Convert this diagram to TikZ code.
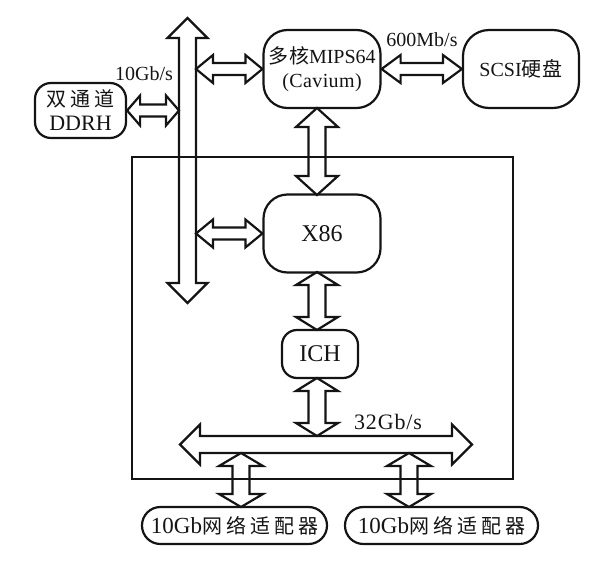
\documentclass[tikz,border=0pt]{standalone}
\usepackage{fontspec}
\usetikzlibrary{calc}
\setmainfont{Liberation Serif}
\newfontfamily\cjk[LetterSpace=20]{Noto Sans CJK SC}
\newfontfamily\cjkb[LetterSpace=4]{Noto Sans CJK SC}
\newcommand{\largetxt}{\fontsize{24}{28}\selectfont}
\definecolor{ink}{HTML}{141414}
\tikzset{
  box/.style={draw=ink,line width=2.2pt,rounded corners=#1,inner sep=0pt,align=center,text=ink,font=\fontsize{20}{24}\selectfont},
  box/.default=22pt,
  arr/.style={draw=ink,line width=2.2pt,line join=miter},
  lab/.style={text=ink,inner sep=0pt,font=\fontsize{20}{24}\selectfont}
}
% from, to, half shaft, half head, head length
\newcommand{\dblarr}[5]{%
  \draw[arr] (#1)
  -- ($(#1)!#5pt!(#2)!#4pt!90:(#2)$)
  -- ($(#1)!#5pt!(#2)!#3pt!90:(#2)$)
  -- ($(#2)!#5pt!(#1)!#3pt!-90:(#1)$)
  -- ($(#2)!#5pt!(#1)!#4pt!-90:(#1)$)
  -- (#2)
  -- ($(#2)!#5pt!(#1)!#4pt!90:(#1)$)
  -- ($(#2)!#5pt!(#1)!#3pt!90:(#1)$)
  -- ($(#1)!#5pt!(#2)!#3pt!-90:(#2)$)
  -- ($(#1)!#5pt!(#2)!#4pt!-90:(#2)$)
  -- cycle;}
\begin{document}
\begin{tikzpicture}[x=1pt,y=-1pt]
\useasboundingbox (0,0) rectangle (600,568);
\node[draw=ink,line width=2.2pt,minimum width=381pt,minimum height=322pt,inner sep=0pt] (frame) at (322.5,318) {};
\node[box=16pt,minimum width=91pt,minimum height=55pt] (ddr) at (80.5,110.5) {{\cjk 双通道}\\{\fontsize{22}{24}\selectfont DDRH}};
\node[box=24pt,minimum width=117pt,minimum height=78pt] (mips) at (322,69) {{\cjkb 多核}MIPS64\\{\addfontfeature{LetterSpace=2}(Cavium)}};
\node[box=26pt,minimum width=116pt,minimum height=78pt] (scsi) at (521,69) {SCSI{\cjkb 硬盘}};
\node[box=24pt,minimum width=117pt,minimum height=78pt] (x86) at (322,233.5) {\largetxt X86};
\node[box=15pt,minimum width=76pt,minimum height=48pt] (ich) at (320,354) {\largetxt ICH};
\node[box=18.4pt,minimum width=185pt,minimum height=37pt] (a1) at (234.5,525.5) {{\fontsize{23}{24}\selectfont 10Gb}{\cjk 网络适配器}};
\node[box=18.4pt,minimum width=193pt,minimum height=37pt] (a2) at (441.5,525.5) {{\fontsize{23}{24}\selectfont 10Gb}{\cjk 网络适配器}};
\node[lab] (l1) at (144,74) {10Gb/s};
\node[lab] (l2) at (422,40) {600Mb/s};
\node[lab] (l3) at (388,422) {\fontsize{22}{24}\selectfont\addfontfeature{LetterSpace=4}32Gb/s};
% named ends
\coordinate (vt) at (187.5,18);
\coordinate (vb) at (187.5,303);
\coordinate (hl) at (180,444.5);
\coordinate (hr) at (472,444.5);
\coordinate (vm) at (196,69);
\coordinate (vx) at (196,233.5);
\coordinate (vd) at (179,110.5);
\coordinate (mipsS) at (317,108);
\coordinate (x86N) at (317,195);
\coordinate (x86S) at (317,272);
\coordinate (ichN) at (317,330);
\coordinate (ichS) at (317,378);
\coordinate (hT) at (317,436);
\coordinate (h1) at (241,453);
\coordinate (h2) at (409,453);
\coordinate (a1N) at (241,507);
\coordinate (a2N) at (409,507);
\dblarr{vt}{vb}{8.5}{20}{20}
\dblarr{hl}{hr}{8.5}{20}{20}
\dblarr{vm}{mips.west}{6}{14}{17}
\dblarr{vx}{x86.west}{6}{14}{17}
\dblarr{ddr.east}{vd}{6}{15}{13}
\dblarr{mips.east}{scsi.west}{6}{14}{19}
\dblarr{mipsS}{x86N}{8.5}{21}{19}
\dblarr{x86S}{ichN}{8.5}{21}{13}
\dblarr{ichS}{hT}{8.5}{21}{13}
\dblarr{h1}{a1N}{8.5}{22}{13}
\dblarr{h2}{a2N}{8.5}{22}{13}
\end{tikzpicture}
\end{document}
